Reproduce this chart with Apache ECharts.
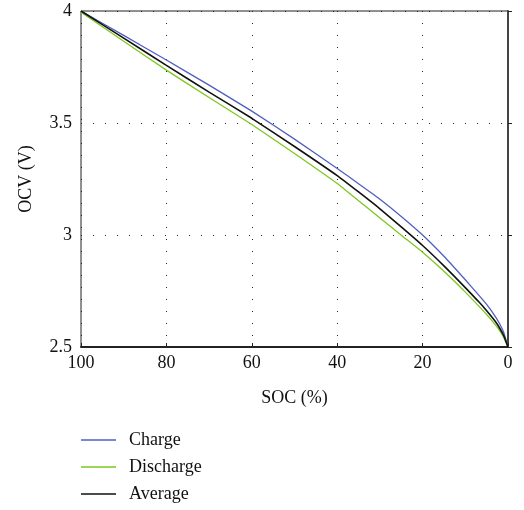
<!DOCTYPE html>
<html><head><meta charset="utf-8">
<script src="https://cdn.jsdelivr.net/npm/echarts@6/dist/echarts.min.js"></script>
<style>html,body{margin:0;padding:0;background:#fff}#c{width:524px;height:510px}</style>
</head><body><div id="c"></div>
<script>
const soc = [0, 1, 2, 3, 5, 7, 10, 15, 20, 25, 30, 35, 40, 50, 60, 70, 80, 90, 100];
const charge    = [2.5, 2.565, 2.605, 2.637, 2.690, 2.735, 2.800, 2.905, 3.000, 3.083, 3.160, 3.229, 3.297, 3.428, 3.553, 3.669, 3.781, 3.891, 4.0];
const discharge = [2.5, 2.542, 2.574, 2.600, 2.645, 2.686, 2.745, 2.838, 2.923, 2.999, 3.076, 3.153, 3.230, 3.364, 3.493, 3.614, 3.736, 3.865, 3.995];
const average   = [2.5, 2.550, 2.586, 2.615, 2.662, 2.705, 2.765, 2.862, 2.953, 3.036, 3.117, 3.192, 3.265, 3.395, 3.521, 3.638, 3.757, 3.879, 4.0];
const seriesNames = ['Charge', 'Discharge', 'Average'];
const xLabel = 'SOC (%)';
const yLabel = 'OCV (V)';

const pairs = arr => soc.map((s, i) => [s, arr[i]]);
const font = 'Liberation Serif';
const colors = ['#4f5fc0', '#7cc81e', '#111111'];
const chart = echarts.init(document.getElementById('c'), null, {renderer: 'canvas'});
chart.setOption({
  animation: false,
  backgroundColor: '#fff',
  textStyle: {fontFamily: font},
  grid: {left: 81, top: 11, right: 16, bottom: 163, show: true, borderColor: '#222', borderWidth: 1},
  xAxis: {
    type: 'value', inverse: true, min: 0, max: 100, interval: 20,
    name: xLabel, nameLocation: 'middle', nameGap: 42,
    nameTextStyle: {fontFamily: font, fontSize: 18, color: '#111'},
    axisLine: {show: true, lineStyle: {color: '#222', width: 2}},
    axisTick: {show: true, inside: true, length: 4, lineStyle: {color: '#222'}},
    axisLabel: {fontFamily: font, fontSize: 18, color: '#111', margin: 7},
    splitLine: {show: true, lineStyle: {color: '#222', type: [1, 11], width: 1}}
  },
  yAxis: {
    type: 'value', min: 2.5, max: 4, interval: 0.5,
    name: yLabel, nameLocation: 'middle', nameGap: 46, nameRotate: 90,
    nameTextStyle: {fontFamily: font, fontSize: 18, color: '#111'},
    axisLine: {show: true, lineStyle: {color: '#444', width: 2}},
    axisTick: {show: true, inside: true, length: 4, lineStyle: {color: '#222'}},
    axisLabel: {fontFamily: font, fontSize: 18, color: '#111', margin: 9},
    splitLine: {show: true, lineStyle: {color: '#222', type: [1, 11], width: 1}}
  },
  legend: {
    orient: 'vertical', left: 81, top: 431, padding: 0,
    icon: 'rect', itemWidth: 35, itemHeight: 1.5, itemGap: 9,
    textStyle: {fontFamily: font, fontSize: 18, color: '#111', padding: [0, 0, 0, 8]},
    data: seriesNames
  },
  series: [
    {name: seriesNames[0], type: 'line', data: pairs(charge), smooth: 0.15, symbol: 'none', lineStyle: {color: colors[0], width: 1.3}, itemStyle: {color: colors[0]}},
    {name: seriesNames[1], type: 'line', data: pairs(discharge), smooth: 0.15, symbol: 'none', lineStyle: {color: colors[1], width: 1.3}, itemStyle: {color: colors[1]}},
    {name: seriesNames[2], type: 'line', data: pairs(average), smooth: 0.15, symbol: 'none', lineStyle: {color: colors[2], width: 1.6}, itemStyle: {color: colors[2]}}
  ]
});
</script></body></html>
